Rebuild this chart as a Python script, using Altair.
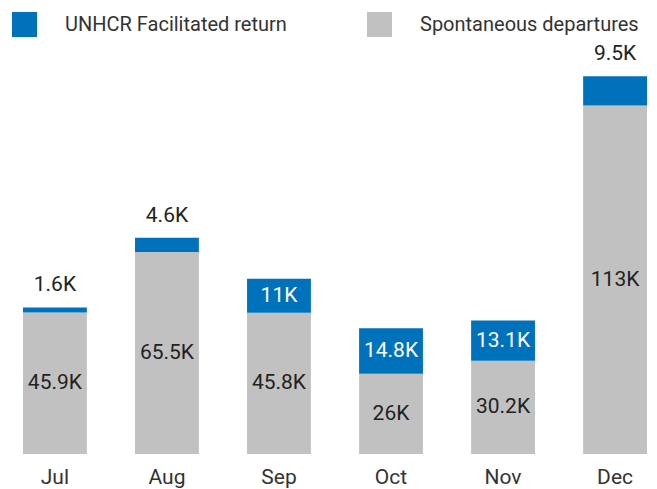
import altair as alt
import pandas as pd

months = ["Jul", "Aug", "Sep", "Oct", "Nov", "Dec"]
facilitated = [1.6, 4.6, 11, 14.8, 13.1, 9.5]      # thousands
spontaneous = [45.9, 65.5, 45.8, 26, 30.2, 113]    # thousands

SER_F = "UNHCR Facilitated return"
SER_S = "Spontaneous departures"

def fmt(v):
    return f"{v:g}K"

bar_rows = []
in_rows = []
above_rows = []
for m, f, s in zip(months, facilitated, spontaneous):
    bar_rows.append({"month": m, "series": SER_S, "y0": 0, "y1": s})
    bar_rows.append({"month": m, "series": SER_F, "y0": s, "y1": s + f})
    in_rows.append({"month": m, "y": s / 2, "label": fmt(s), "tc": "dark"})
    if f >= 10:
        in_rows.append({"month": m, "y": s + f / 2, "label": fmt(f), "tc": "light"})
    else:
        above_rows.append({"month": m, "y": s + f, "label": fmt(f)})

bars_df = pd.DataFrame(bar_rows)
in_df = pd.DataFrame(in_rows)
above_df = pd.DataFrame(above_rows)

FONT = "Roboto"
x_enc = alt.X("month:N", sort=months, title=None,
              scale=alt.Scale(paddingInner=0.43, paddingOuter=0),
              axis=alt.Axis(domain=False, ticks=False, labelPadding=12,
                            labelFontSize=21, labelColor="#333333",
                            labelFont=FONT, labelAngle=0))
y_scale = alt.Scale(domain=[0, 130], nice=False, zero=True)

bars = alt.Chart(bars_df).mark_bar().encode(
    x=x_enc,
    y=alt.Y("y0:Q", scale=y_scale, axis=None),
    y2="y1:Q",
    color=alt.Color("series:N",
                    scale=alt.Scale(domain=[SER_F, SER_S],
                                    range=["#0072BC", "#C1C1C1"]),
                    legend=alt.Legend(title=None, orient="none",
                                      legendX=-11, legendY=-41,
                                      direction="horizontal",
                                      symbolType="square", symbolSize=625,
                                      symbolStrokeWidth=0,
                                      labelFontSize=20, labelFont=FONT,
                                      labelColor="#333333", labelLimit=400,
                                      labelOffset=28, columnPadding=80)),
)

inside = alt.Chart(in_df).mark_text(font=FONT, fontSize=21, baseline="middle").encode(
    x=alt.X("month:N", sort=months),
    y=alt.Y("y:Q", scale=y_scale),
    text="label:N",
    color=alt.Color("tc:N", scale=alt.Scale(domain=["dark", "light"],
                                            range=["#222222", "#FFFFFF"]),
                    legend=None),
)

above = alt.Chart(above_df).mark_text(font=FONT, fontSize=21, baseline="bottom",
                                      dy=-12, color="#222222").encode(
    x=alt.X("month:N", sort=months),
    y=alt.Y("y:Q", scale=y_scale),
    text="label:N",
)

chart = alt.layer(bars, inside, above).resolve_scale(color="independent").properties(
    width=624, height=401,
    autosize=alt.AutoSizeParams(type="none"),
    padding={"left": 23, "top": 53, "right": 10, "bottom": 35},
).configure_view(stroke=None)

chart.save("out.html", embed_options={"renderer": "svg", "actions": False})
